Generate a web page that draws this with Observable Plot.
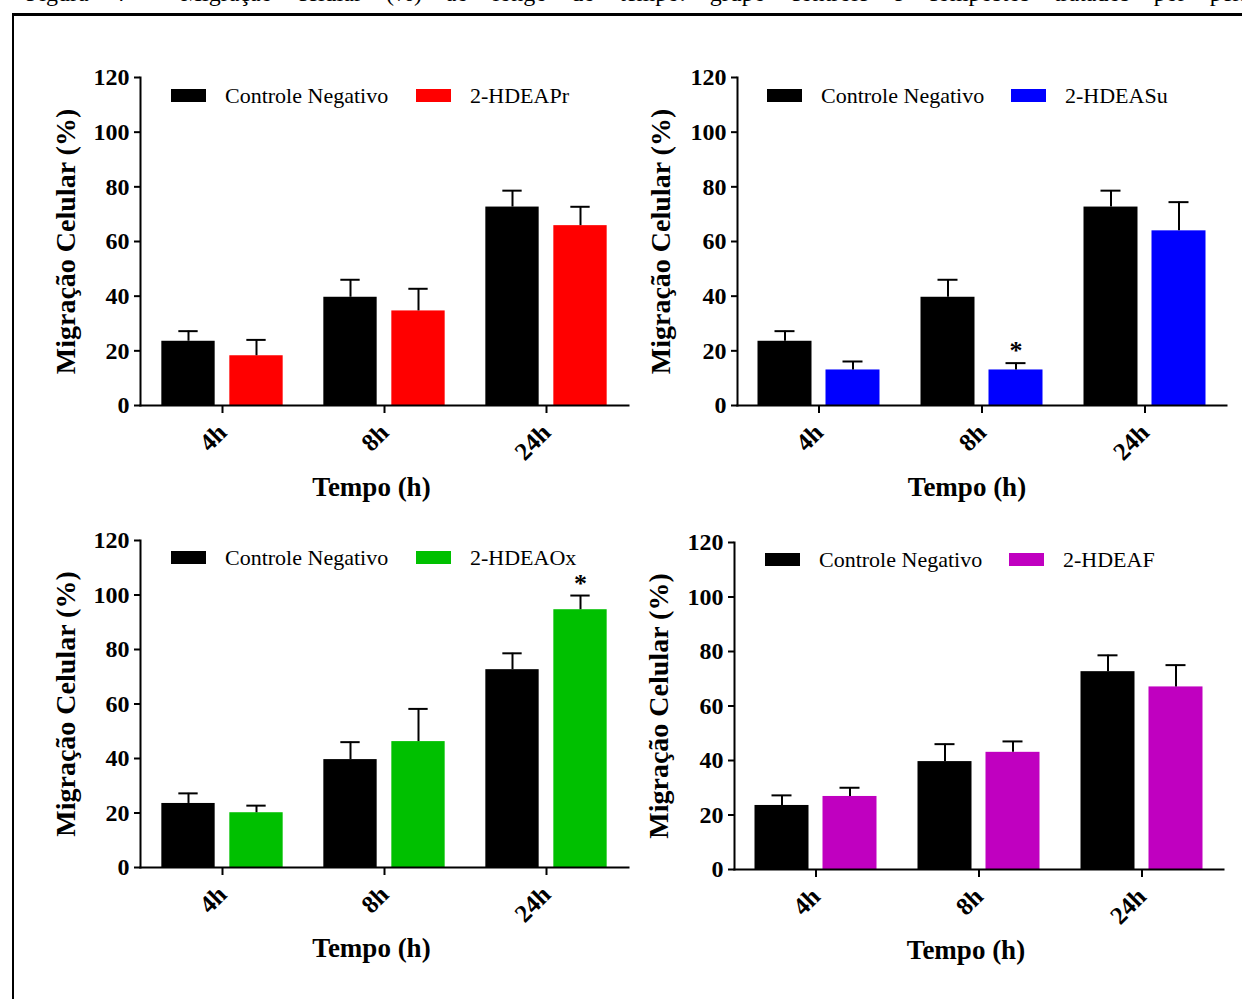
<!DOCTYPE html>
<html>
<head>
<meta charset="utf-8">
<script src="https://cdn.jsdelivr.net/npm/d3@7"></script>
<script src="https://cdn.jsdelivr.net/npm/@observablehq/plot@0.6"></script>
<style>
  html, body { margin: 0; padding: 0; background: #fff; }
  body { width: 1242px; height: 999px; position: relative; overflow: hidden; font-family: "Liberation Serif", "Times New Roman", serif; }
  .caption { position: absolute; left: 26px; top: -19px; font-size: 24px; line-height: 24px; white-space: nowrap; word-spacing: 18px; color: #000; }
  .frame { position: absolute; left: 12px; top: 13px; width: 1240px; height: 1000px; border-top: 3px solid #000; border-left: 2px solid #000; box-sizing: border-box; background: #fff; }
  .panel { position: absolute; }
  .legend { position: absolute; height: 24px; font-size: 22px; line-height: 24px; white-space: nowrap; color: #000; }
  .sw { position: absolute; width: 35px; height: 13px; top: 5px; }
  .lt { position: absolute; top: 0; }
</style>
</head>
<body>
<div class="caption">Figura 4 - Migração celular (%) ao longo do tempo: grupo controle e compostos tratados por período</div>
<div class="frame"></div>
<div id="root"></div>
<script>
// ---- data ----
const times = ["4h", "8h", "24h"];
const yTicks = [0, 20, 40, 60, 80, 100, 120];
const controlName = "Controle Negativo";
const controlMean = [23.5, 39.6, 72.6];
const controlErr = [3.7, 6.4, 6.0];

const treatmentNames = ["2-HDEAPr", "2-HDEASu", "2-HDEAOx", "2-HDEAF"];
const treatmentColors = ["#ff0000", "#0000ff", "#00c000", "#c000c0"];
const prMean = [18.2, 34.6, 65.8];
const prErr = [5.8, 8.1, 6.9];
const suMean = [13.0, 13.0, 63.9];
const suErr = [3.1, 2.5, 10.5];
const oxMean = [20.1, 46.2, 94.6];
const oxErr = [2.6, 12.0, 5.2];
const fMean = [26.8, 43.0, 67.0];
const fErr = [3.2, 4.0, 8.0];
const treatmentMeans = [prMean, suMean, oxMean, fMean];
const treatmentErrs = [prErr, suErr, oxErr, fErr];
const significant = [[], ["8h"], ["24h"], []];

const yLabel = "Migração Celular (%)";
const xLabel = "Tempo (h)";

// ---- layout ----
const layouts = [
  {left: 0,   top: 40,  width: 632, height: 470, mL: 140, mR: 4,  mT: 37, mB: 105, tdx: -13, tdy: 82, ydx: -74, lgX: 171, lgY: 84, lg2: 245},
  {left: 632, top: 40,  width: 610, height: 470, mL: 105, mR: 16, mT: 37, mB: 105, tdx: -15, tdy: 82, ydx: -76, lgX: 767, lgY: 84, lg2: 244},
  {left: 0,   top: 510, width: 632, height: 489, mL: 140, mR: 4,  mT: 30, mB: 132, tdx: -13, tdy: 81, ydx: -74, lgX: 171, lgY: 546, lg2: 245},
  {left: 632, top: 510, width: 610, height: 489, mL: 102, mR: 19, mT: 32, mB: 130, tdx: -13, tdy: 81, ydx: -75, lgX: 765, lgY: 548, lg2: 244}
];

const barW = 54, gap = 14, capW = 20;
const root = document.getElementById("root");

layouts.forEach((L, k) => {
  const rows = [];
  times.forEach((t, i) => {
    rows.push({time: t, group: "c", mean: controlMean[i], err: controlErr[i]});
  });
  times.forEach((t, i) => {
    rows.push({time: t, group: "t", mean: treatmentMeans[k][i], err: treatmentErrs[k][i]});
  });
  const ctrl = rows.filter(d => d.group === "c");
  const trt = rows.filter(d => d.group === "t");
  const stars = trt.filter(d => significant[k].includes(d.time));

  const step = (L.width - L.mL - L.mR) / times.length;
  const side = (step - (2 * barW + gap)) / 2;
  const off = (barW + gap) / 2;

  const chart = Plot.plot({
    width: L.width,
    height: L.height,
    marginLeft: L.mL,
    marginRight: L.mR,
    marginTop: L.mT,
    marginBottom: L.mB,
    style: {fontFamily: "Liberation Serif", color: "#000", background: "transparent", overflow: "visible"},
    x: {domain: times, padding: 0},
    y: {domain: [0, 120]},
    marks: [
      Plot.barY(ctrl, {x: "time", y: "mean", fill: "#000", insetLeft: side, insetRight: side + barW + gap}),
      Plot.barY(trt, {x: "time", y: "mean", fill: treatmentColors[k], insetLeft: side + barW + gap, insetRight: side}),
      Plot.ruleX(ctrl, {x: "time", y1: "mean", y2: d => d.mean + d.err, dx: -off, strokeWidth: 2}),
      Plot.ruleX(trt, {x: "time", y1: "mean", y2: d => d.mean + d.err, dx: off, strokeWidth: 2}),
      Plot.tickY(ctrl, {x: "time", y: d => d.mean + d.err, insetLeft: step / 2 - off - capW / 2, insetRight: step / 2 + off - capW / 2, strokeWidth: 2}),
      Plot.tickY(trt, {x: "time", y: d => d.mean + d.err, insetLeft: step / 2 + off - capW / 2, insetRight: step / 2 - off - capW / 2, strokeWidth: 2}),
      Plot.text(stars, {x: "time", y: d => d.mean + d.err, dx: off, dy: -4, text: () => "*", fontSize: 26, fontWeight: "bold", lineAnchor: "bottom"}),
      Plot.frame({anchor: "left", strokeWidth: 2}),
      Plot.frame({anchor: "bottom", strokeWidth: 2}),
      Plot.axisY({ticks: yTicks, tickSize: 6, tickPadding: 5, fontSize: 24, fontWeight: "bold", strokeWidth: 2, label: null}),
      Plot.axisX({tickSize: 8, tickPadding: 15, tickRotate: -45, fontSize: 25, fontWeight: "bold", strokeWidth: 2, label: null}),
      Plot.text([yLabel], {frameAnchor: "left", rotate: -90, dx: L.ydx, textAnchor: "middle", lineAnchor: "middle", fontSize: 28, fontWeight: "bold"}),
      Plot.text([xLabel], {frameAnchor: "bottom", dx: L.tdx, dy: L.tdy, textAnchor: "middle", lineAnchor: "middle", fontSize: 27, fontWeight: "bold"})
    ]
  });
  const wrap = document.createElement("div");
  wrap.className = "panel";
  wrap.style.left = L.left + "px";
  wrap.style.top = L.top + "px";
  wrap.appendChild(chart);
  root.appendChild(wrap);

  // legend (HTML, above the plot area)
  const entries = [[controlName, "#000000"], [treatmentNames[k], treatmentColors[k]]];
  entries.forEach(([name, col], j) => {
    const lg = document.createElement("div");
    lg.className = "legend";
    lg.style.left = (L.lgX + j * L.lg2) + "px";
    lg.style.top = L.lgY + "px";
    const sw = document.createElement("div");
    sw.className = "sw";
    sw.style.left = "0px";
    sw.style.background = col;
    const tx = document.createElement("span");
    tx.className = "lt";
    tx.style.left = "54px";
    tx.textContent = name;
    lg.appendChild(sw);
    lg.appendChild(tx);
    root.appendChild(lg);
  });
});
</script>
</body>
</html>
